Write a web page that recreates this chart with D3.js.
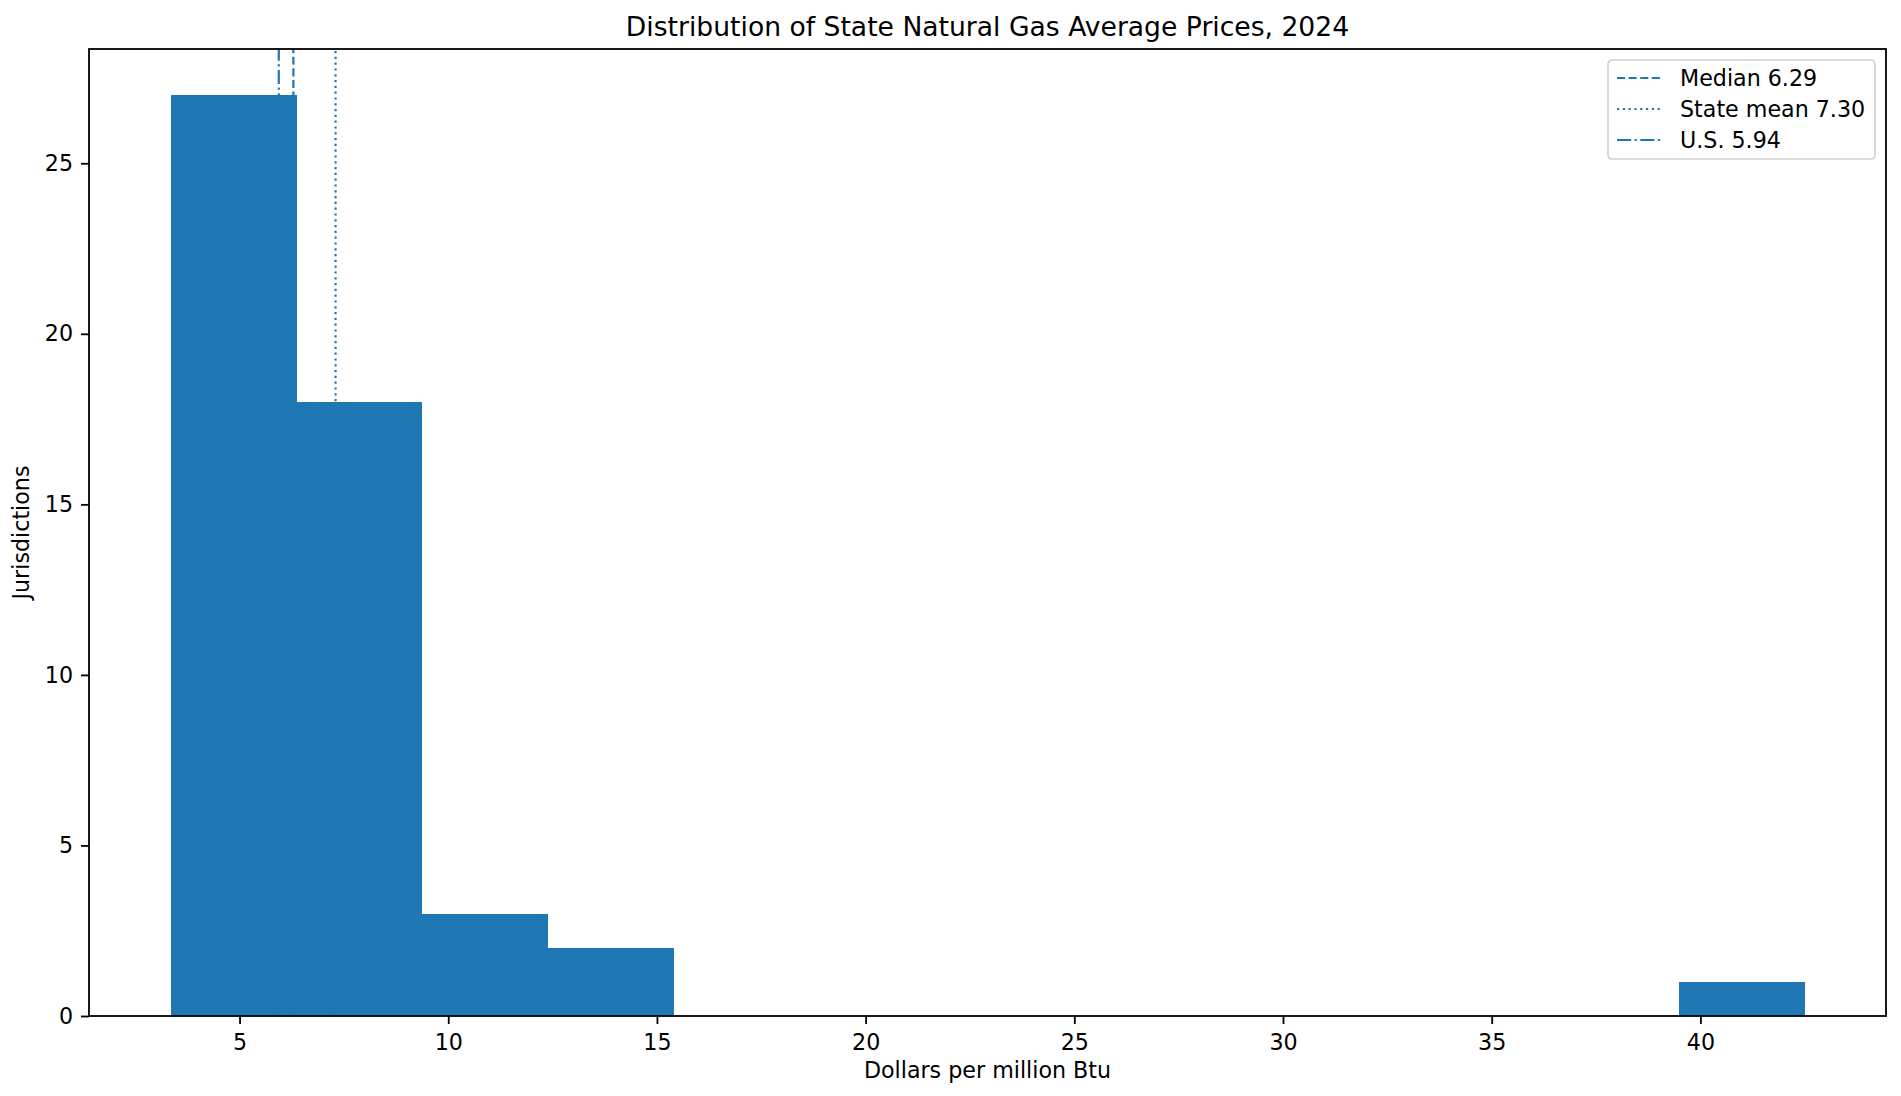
<!DOCTYPE html>
<html>
<head>
<meta charset="utf-8">
<title>Distribution of State Natural Gas Average Prices, 2024</title>
<script src="https://cdn.jsdelivr.net/npm/d3@7"></script>
<style>
  body { margin: 0; background: #fff; }
  svg { display: block; font-family: "DejaVu Sans", sans-serif; }
</style>
</head>
<body>
<div id="chart"></div>
<script>
// histogram bins (edges, $ per million Btu) and jurisdiction counts
const binEdges = [3.35, 6.36, 9.37, 12.38, 15.40, 18.41, 21.42, 24.43, 27.44, 30.45, 33.46, 36.47, 39.48, 42.49];
const binCounts = [27, 18, 3, 2, 0, 0, 0, 0, 0, 0, 0, 0, 1];

// reference lines
const refLabels = ["Median 6.29", "State mean 7.30", "U.S. 5.94"];
const refValues = [6.29, 7.30, 5.94];
const refStyles = ["dashed", "dotted", "dashdot"];

// tick labels
const xTicks = [5, 10, 15, 20, 25, 30, 35, 40];
const yTicks = [0, 5, 10, 15, 20, 25];

const width = 1901;
const height = 1096;

const marginTop = 49;
const marginRight = 15;
const marginBottom = 80;
const marginLeft = 89;

const blue = "#1f77b4";
const fontSize = "22.2px";
const dashes = { dashed: "8.1 3.5", dotted: "2.2 3.6", dashdot: "14.1 3.5 2.2 3.5" };

const bins = binCounts.map((c, i) => ({ x0: binEdges[i], x1: binEdges[i + 1], count: c }));

const svg = d3.select("#chart")
    .append("svg")
    .attr("width", width)
    .attr("height", height);

// x scale with matplotlib-like 5% margins
const xMin = binEdges[0], xMax = binEdges[binEdges.length - 1];
const xPad = (xMax - xMin) * 0.05;
const x = d3.scaleLinear()
    .domain([xMin - xPad, xMax + xPad])
    .range([marginLeft, width - marginRight]);

const yMax = d3.max(binCounts) * 1.05;
const y = d3.scaleLinear()
    .domain([0, yMax])
    .range([height - marginBottom, marginTop]);

// BARS
svg.append("g")
    .attr("shape-rendering", "crispEdges")
    .selectAll("rect")
    .data(bins.filter(d => d.count > 0))
    .join("rect")
    .attr("x", d => x(d.x0))
    .attr("y", d => y(d.count))
    .attr("width", d => x(d.x1) - x(d.x0) + 0.5)
    .attr("height", d => y(0) - y(d.count))
    .attr("fill", blue);

// REFERENCE LINES
const refs = refValues.map((v, i) => ({ v, label: refLabels[i], style: refStyles[i] }));

svg.append("g")
    .selectAll("line")
    .data(refs)
    .join("line")
    .attr("x1", d => x(d.v))
    .attr("x2", d => x(d.v))
    .attr("y1", y(0))
    .attr("y2", y(yMax))
    .attr("stroke", blue)
    .attr("stroke-width", 2.2)
    .attr("stroke-dasharray", d => dashes[d.style]);

// X AXIS
svg.append("g")
    .attr("transform", `translate(0, ${height - marginBottom})`)
    .call(d3.axisBottom(x).tickValues(xTicks).tickSize(8).tickPadding(10).tickSizeOuter(0))
    .call(g => g.select(".domain").remove())
    .call(g => g.selectAll("line").attr("stroke", "#000").attr("stroke-width", 1.8))
    .call(g => g.selectAll("text").attr("fill", "#000").attr("font-size", fontSize)
        .attr("font-family", "DejaVu Sans, sans-serif"));

// Y AXIS
svg.append("g")
    .attr("transform", `translate(${marginLeft}, 0)`)
    .call(d3.axisLeft(y).tickValues(yTicks).tickSize(8).tickPadding(8).tickSizeOuter(0))
    .call(g => g.select(".domain").remove())
    .call(g => g.selectAll("line").attr("stroke", "#000").attr("stroke-width", 1.8))
    .call(g => g.selectAll("text").attr("fill", "#000").attr("font-size", fontSize)
        .attr("font-family", "DejaVu Sans, sans-serif"));

// FRAME
svg.append("rect")
    .attr("x", marginLeft)
    .attr("y", marginTop)
    .attr("width", width - marginRight - marginLeft)
    .attr("height", height - marginBottom - marginTop)
    .attr("fill", "none")
    .attr("stroke", "#000")
    .attr("stroke-width", 1.8);

// TITLE + LABELS
svg.append("text")
    .attr("x", (marginLeft + width - marginRight) / 2)
    .attr("y", 36)
    .attr("text-anchor", "middle")
    .attr("font-size", "26.6px")
    .text("Distribution of State Natural Gas Average Prices, 2024");

svg.append("text")
    .attr("x", (marginLeft + width - marginRight) / 2)
    .attr("y", 1078)
    .attr("text-anchor", "middle")
    .attr("font-size", fontSize)
    .text("Dollars per million Btu");

svg.append("text")
    .attr("transform", `translate(29, ${(marginTop + height - marginBottom) / 2}) rotate(-90)`)
    .attr("text-anchor", "middle")
    .attr("font-size", fontSize)
    .text("Jurisdictions");

// LEGEND
const legend = svg.append("g").attr("transform", "translate(1608, 60)");

legend.append("rect")
    .attr("width", 267)
    .attr("height", 99)
    .attr("rx", 4)
    .attr("fill", "#fff")
    .attr("fill-opacity", 0.8)
    .attr("stroke", "#d0d0d0")
    .attr("stroke-width", 1.6);

const rows = legend.selectAll("g.row")
    .data(refs)
    .join("g")
    .attr("class", "row")
    .attr("transform", (d, i) => `translate(0, ${18 + i * 31})`);

rows.append("line")
    .attr("x1", 9)
    .attr("x2", 54)
    .attr("stroke", blue)
    .attr("stroke-width", 2.2)
    .attr("stroke-dasharray", d => dashes[d.style]);

rows.append("text")
    .attr("x", 72)
    .attr("dy", "0.36em")
    .attr("font-size", fontSize)
    .text(d => d.label);
</script>
</body>
</html>
